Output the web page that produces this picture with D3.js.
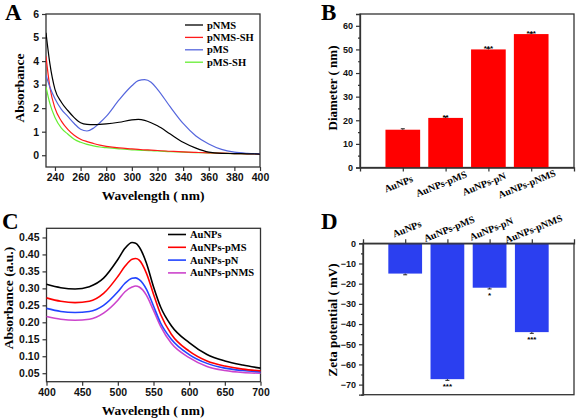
<!DOCTYPE html>
<html><head><meta charset="utf-8">
<script src="https://cdn.jsdelivr.net/npm/d3@7"></script>
<style>body{margin:0;background:#fff}svg{display:block}</style>
</head><body>
<svg id="c" width="577" height="419"></svg>
<script>
// Panel A data
const wlA = [233,236,240,245,250,255,260,265,270,275,280,290,300,305,310,315,320,330,340,350,360,370,380,390,400];
const seriesA = ["pNMS","pNMS-SH","pMS","pMS-SH"];
const pNMS   = [5.2,3.9,2.8,2.25,1.9,1.6,1.38,1.31,1.3,1.31,1.33,1.4,1.5,1.52,1.48,1.38,1.25,0.9,0.55,0.3,0.13,0.08,0.07,0.06,0.05];
const pNMSSH = [4.2,2.9,2.0,1.45,1.1,0.85,0.68,0.58,0.5,0.43,0.38,0.31,0.27,0.25,0.23,0.22,0.2,0.17,0.14,0.12,0.1,0.09,0.07,0.06,0.05];
const pMS    = [3.4,2.9,2.4,1.95,1.65,1.35,1.1,1.03,1.15,1.38,1.65,2.35,2.95,3.17,3.21,3.1,2.8,2.05,1.35,0.82,0.48,0.25,0.13,0.08,0.06];
const pMSSH  = [2.9,2.2,1.6,1.15,0.9,0.68,0.55,0.46,0.4,0.35,0.32,0.27,0.23,0.22,0.2,0.19,0.18,0.15,0.13,0.11,0.1,0.08,0.07,0.06,0.05];
const ticksAx = [240,260,280,300,320,340,360,380,400];
const ticksAy = [0,1,2,3,4,5,6];

// Panel B data
const catsB = ["AuNPs","AuNPs-pMS","AuNPs-pN","AuNPs-pNMS"];
const diam = [16,21,50,56.5];
const diamErr = [0.4,0.5,0.5,0.5];
const starsB = ["","**","***","***"];
const ticksBy = [0,10,20,30,40,50,60];

// Panel C data
const wlC = [400,420,440,460,480,500,510,520,525,530,540,550,560,575,600,625,650,675,700];
const seriesC = ["AuNPs","AuNPs-pMS","AuNPs-pN","AuNPs-pNMS"];
const cAu    = [0.312,0.302,0.298,0.305,0.33,0.385,0.418,0.435,0.433,0.422,0.375,0.305,0.245,0.19,0.14,0.105,0.086,0.074,0.065];
const cPMS   = [0.272,0.262,0.258,0.262,0.285,0.335,0.365,0.386,0.388,0.383,0.345,0.283,0.223,0.165,0.115,0.086,0.071,0.062,0.057];
const cPN    = [0.241,0.232,0.229,0.232,0.25,0.29,0.315,0.33,0.331,0.326,0.298,0.248,0.198,0.15,0.105,0.079,0.065,0.058,0.054];
const cPNMS  = [0.217,0.209,0.206,0.209,0.227,0.265,0.29,0.304,0.307,0.304,0.28,0.235,0.188,0.138,0.096,0.07,0.058,0.052,0.05];
const ticksCx = [400,450,500,550,600,650,700];
const ticksCy = [0.05,0.10,0.15,0.20,0.25,0.30,0.35,0.40,0.45];

// Panel D data
const catsD = ["AuNPs","AuNPs-pMS","AuNPs-pN","AuNPs-pNMS"];
const zeta = [-15,-67.3,-22,-44];
const zetaErr = [0.6,0.6,0.6,0.6];
const starsD = ["","***","*","***"];
const ticksDy = [0,-10,-20,-30,-40,-50,-60,-70];

const svg = d3.select("#c");
const AX = "#333";
const SANS = "'Liberation Sans', Arial, sans-serif";
const SERIF = "'Liberation Serif', 'Times New Roman', serif";

function frame(x0,x1,y0,y1){
  svg.append("rect").attr("x",x0).attr("y",y0).attr("width",x1-x0).attr("height",y1-y0)
    .attr("fill","none").attr("stroke",AX).attr("stroke-width",1.3);
}
function panelLetter(t,x,y){
  svg.append("text").attr("x",x).attr("y",y).text(t)
    .attr("font-family",SERIF).attr("font-weight","bold").attr("font-size",23);
}
function yTitle(t,x,y,fs){
  svg.append("text").attr("transform",`translate(${x},${y}) rotate(-90)`).attr("text-anchor","middle")
    .text(t).attr("font-family",SERIF).attr("font-weight","bold").attr("font-size",fs||13.5);
}
function xTitle(t,x,y){
  svg.append("text").attr("x",x).attr("y",y).attr("text-anchor","middle")
    .text(t).attr("font-family",SERIF).attr("font-weight","bold").attr("font-size",13.5);
}
function styleAxis(g,fs){
  g.selectAll("path").attr("stroke",AX).attr("stroke-width",1.3);
  g.selectAll("line").attr("stroke",AX).attr("stroke-width",1.2);
  g.selectAll("text").attr("font-family",SANS).attr("font-weight","bold").attr("font-size",fs).attr("fill","#111");
}
function legend(names,colors,x,y,dy,lw){
  names.forEach((n,i)=>{
    svg.append("line").attr("x1",x).attr("x2",x+18).attr("y1",y+i*dy).attr("y2",y+i*dy)
      .attr("stroke",colors[i]).attr("stroke-width",lw);
    svg.append("text").attr("x",x+22).attr("y",y+i*dy+3.5).text(n)
      .attr("font-family",SERIF).attr("font-weight","bold").attr("font-size",10.5);
  });
}

// ---------- Panel A ----------
{
  const x = d3.scaleLinear().domain([233,400]).range([46,260]);
  const y = d3.scaleLinear().domain([-0.5,6]).range([167,14]);
  const cols = ["#000000","#ff1a1a","#5566dd","#66ee33"];
  const data = [pNMS,pNMSSH,pMS,pMSSH];
  frame(46,260,14,167);
  const gx = svg.append("g").attr("transform","translate(0,167)")
    .call(d3.axisBottom(x).tickValues(ticksAx).tickSize(4).tickFormat(d3.format("d")));
  styleAxis(gx,10.5); gx.select("path").remove();
  const gy = svg.append("g").attr("transform","translate(46,0)")
    .call(d3.axisLeft(y).tickValues(ticksAy).tickSize(4).tickFormat(d3.format("d")));
  styleAxis(gy,10.5); gy.select("path").remove();
  const line = d3.line().x((d,i)=>x(wlA[i])).y(d=>y(d)).curve(d3.curveMonotoneX);
  svg.append("clipPath").attr("id","clipA").append("rect").attr("x",46).attr("y",14).attr("width",214).attr("height",153);
  [3,1,2,0].forEach(k=>{
    svg.append("path").datum(data[k]).attr("d",line).attr("fill","none")
      .attr("stroke",cols[k]).attr("stroke-width",1.2).attr("clip-path","url(#clipA)");
  });
  legend(seriesA,cols,185,25,12.4,1.3);
  panelLetter("A",5,20);
  yTitle("Absorbance",24,88);
  xTitle("Wavelength ( nm)",153,200);
}

// ---------- Panel B ----------
{
  const x = d3.scaleLinear().domain([0,5]).range([360,574]);
  const y = d3.scaleLinear().domain([0,65]).range([167.5,14]);
  const bw = x(0.81)-x(0);
  frame(360,574,14,167.5);
  svg.selectAll(".barB").data(diam).enter().append("rect")
    .attr("x",(d,i)=>x(i+1)-bw/2).attr("width",bw)
    .attr("y",d=>y(d)).attr("height",d=>y(0)-y(d)).attr("fill","#ff0000");
  diam.forEach((d,i)=>{
    const cx=x(i+1);
    svg.append("line").attr("x1",cx).attr("x2",cx).attr("y1",y(d+diamErr[i])).attr("y2",y(d)).attr("stroke","#222").attr("stroke-width",1);
    svg.append("line").attr("x1",cx-2).attr("x2",cx+2).attr("y1",y(d+diamErr[i])).attr("y2",y(d+diamErr[i])).attr("stroke","#222").attr("stroke-width",1);
    if(starsB[i]) svg.append("text").attr("x",cx).attr("y",y(d)+2).attr("text-anchor","middle").text(starsB[i])
      .attr("font-family",SANS).attr("font-weight","bold").attr("font-size",8);
  });
  const gx = svg.append("g").attr("transform",`translate(0,${y(0)})`)
    .call(d3.axisBottom(x).tickValues([1,2,3,4]).tickSize(4).tickFormat(""));
  styleAxis(gx,10);
  catsB.forEach((c,i)=>{
    svg.append("text").attr("transform",`translate(${x(i+1)-3},${187}) rotate(-22)`).attr("text-anchor","middle")
      .text(c).attr("font-family",SERIF).attr("font-weight","bold").attr("font-size",10);
  });
  const gy = svg.append("g").attr("transform","translate(360,0)")
    .call(d3.axisLeft(y).tickValues(ticksBy).tickSize(4).tickFormat(d3.format("d")));
  styleAxis(gy,9);
  const gym = svg.append("g").attr("transform","translate(360,0)")
    .call(d3.axisLeft(y).tickValues([5,15,25,35,45,55,65]).tickSize(2).tickFormat(""));
  styleAxis(gym,9); gym.select("path").remove();
  panelLetter("B",321,20);
  yTitle("Diameter ( nm)",337,88,13);
}

// ---------- Panel C ----------
{
  const x = d3.scaleLinear().domain([400,700]).range([46.5,260.5]);
  const y = d3.scaleLinear().domain([0.025,0.477]).range([381.7,228.3]);
  const cols = ["#000000","#ff0000","#2244ff","#cc44cc"];
  const data = [cAu,cPMS,cPN,cPNMS];
  frame(46.5,260.5,228.3,381.7);
  const gx = svg.append("g").attr("transform","translate(0,381.7)")
    .call(d3.axisBottom(x).tickValues(ticksCx).tickSize(4).tickFormat(d3.format("d")));
  styleAxis(gx,10.5); gx.select("path").remove();
  const gy = svg.append("g").attr("transform","translate(46.5,0)")
    .call(d3.axisLeft(y).tickValues(ticksCy).tickSize(4).tickFormat(d3.format(".2f")));
  styleAxis(gy,10.5); gy.select("path").remove();
  const line = d3.line().x((d,i)=>x(wlC[i])).y(d=>y(d)).curve(d3.curveMonotoneX);
  [3,2,1,0].forEach(k=>{
    svg.append("path").datum(data[k]).attr("d",line).attr("fill","none")
      .attr("stroke",cols[k]).attr("stroke-width",1.6);
  });
  legend(seriesC,cols,168,234.5,12.8,1.6);
  panelLetter("C",2,229);
  yTitle("Absorbance (a.u.)",13,298);
  xTitle("Wavelength ( nm)",153,415);
}

// ---------- Panel D ----------
{
  const x = d3.scaleLinear().domain([0,5]).range([363,574]);
  const y = d3.scaleLinear().domain([-75,0]).range([394.7,243.3]);
  const bw = x(0.8)-x(0);
  frame(363,574,243.3,394.7);
  svg.selectAll(".barD").data(zeta).enter().append("rect")
    .attr("x",(d,i)=>x(i+1)-bw/2).attr("width",bw)
    .attr("y",y(0)).attr("height",d=>y(d)-y(0)).attr("fill","#2b3ff0");
  zeta.forEach((d,i)=>{
    const cx=x(i+1);
    svg.append("line").attr("x1",cx).attr("x2",cx).attr("y1",y(d)).attr("y2",y(d-zetaErr[i])).attr("stroke","#222").attr("stroke-width",1);
    svg.append("line").attr("x1",cx-2).attr("x2",cx+2).attr("y1",y(d-zetaErr[i])).attr("y2",y(d-zetaErr[i])).attr("stroke","#222").attr("stroke-width",1);
    if(starsD[i]) svg.append("text").attr("x",cx).attr("y",y(d)+10).attr("text-anchor","middle").text(starsD[i])
      .attr("font-family",SANS).attr("font-weight","bold").attr("font-size",8);
  });
  const gx = svg.append("g").attr("transform",`translate(0,${y(0)})`)
    .call(d3.axisTop(x).tickValues([1,2,3,4]).tickSize(4).tickFormat(""));
  styleAxis(gx,10);
  catsD.forEach((c,i)=>{
    svg.append("text").attr("transform",`translate(${x(i+1)+3},${232}) rotate(-22)`).attr("text-anchor","middle")
      .text(c).attr("font-family",SERIF).attr("font-weight","bold").attr("font-size",10);
  });
  const gy = svg.append("g").attr("transform","translate(363,0)")
    .call(d3.axisLeft(y).tickValues(ticksDy).tickSize(4).tickFormat(d3.format("d")));
  styleAxis(gy,9);
  const gym = svg.append("g").attr("transform","translate(363,0)")
    .call(d3.axisLeft(y).tickValues([-5,-15,-25,-35,-45,-55,-65,-75]).tickSize(2).tickFormat(""));
  styleAxis(gym,9); gym.select("path").remove();
  panelLetter("D",321,229);
  yTitle("Zeta potential ( mV)",337,320,13);
}
</script>
</body></html>
